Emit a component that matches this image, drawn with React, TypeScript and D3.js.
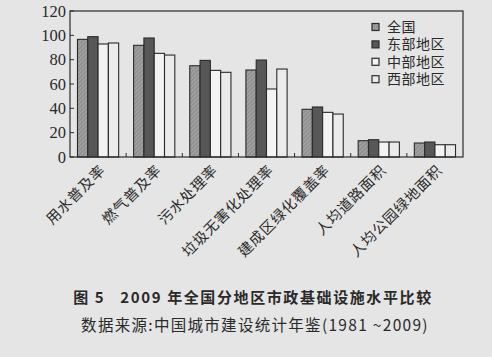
import React from "react";
import * as d3 from "d3";

const categories = ["用水普及率", "燃气普及率", "污水处理率", "垃圾无害化处理率", "建成区绿化覆盖率", "人均道路面积", "人均公园绿地面积"];
const seriesNames = ["全国", "东部地区", "中部地区", "西部地区"];
const quanguo = [96.7, 91.8, 75.0, 71.5, 39.2, 13.4, 11.5];
const dongbu = [98.9, 97.8, 79.4, 79.7, 41.1, 14.2, 12.3];
const zhongbu = [92.9, 85.2, 71.2, 55.9, 36.7, 12.3, 10.1];
const xibu = [93.7, 83.8, 69.6, 72.3, 35.3, 12.3, 10.1];
const yTicks = [0, 20, 40, 60, 80, 100, 120];
const caption1 = "图 5\u00a0\u00a0\u00a02009 年全国分地区市政基础设施水平比较";
const caption2 = "数据来源:中国城市建设统计年鉴(1981 ~2009)";

const seriesValues = [quanguo, dongbu, zhongbu, xibu];
const fills = ["url(#hatch)", "#575757", "#f3f3f3", "#ebebeb"];

export default function App() {
  const W = 492, H = 357;
  const left = 70, right = 463, top = 11, bottom = 157;
  const x0 = d3.scaleBand<string>().domain(categories).range([left, right]).padding(0);
  const bw = 10.3;
  const x1 = d3.scaleBand<string>().domain(seriesNames).range([0, bw * 4]).padding(0);
  const off = (x0.bandwidth() - bw * 4) / 2;
  const y = d3.scaleLinear().domain([0, 120]).range([bottom, top]);
  const serif = "'Liberation Serif', 'DejaVu Serif', serif";
  const cjk = "'Noto Sans CJK SC', sans-serif";
  const legendFont = "'Liberation Sans', 'Noto Sans CJK SC', sans-serif";
  const ink = "#2a2a2a";

  return (
    <svg width={W} height={H} style={{ position: "absolute", left: 0, top: 0, background: "#e5e5e5" }}>
      <defs>
        <pattern id="hatch" width="3" height="3" patternUnits="userSpaceOnUse" patternTransform="rotate(45)">
          <rect width="3" height="3" fill="#a0a0a0" />
          <line x1="0" y1="0" x2="0" y2="3" stroke="#7a7a7a" strokeWidth="1.2" />
        </pattern>
      </defs>
      <rect x={0} y={0} width={W} height={H} fill="#e5e5e5" />
      {/* bars */}
      {categories.map((c, ci) => (
        <g key={c}>
          {seriesNames.map((s, si) => {
            const v = seriesValues[si][ci];
            const bx = (x0(c) as number) + off + (x1(s) as number);
            return (
              <rect key={s} x={bx} y={y(v)} width={x1.bandwidth()} height={y(0) - y(v)}
                fill={fills[si]} stroke={ink} strokeWidth={1.1} />
            );
          })}
        </g>
      ))}
      {/* frame */}
      <rect x={left} y={top} width={right - left} height={bottom - top} fill="none" stroke={ink} strokeWidth={1.2} />
      {/* y ticks */}
      {yTicks.map((t) => (
        <g key={t}>
          <line x1={left} x2={left + 4} y1={y(t)} y2={y(t)} stroke={ink} strokeWidth={1} />
          <text x={left - 4} y={y(t)} dy="0.35em" textAnchor="end" fontFamily={serif} fontSize={16.5} fill={ink}>{t}</text>
        </g>
      ))}
      {/* x group ticks */}
      {categories.slice(1).map((c) => (
        <line key={c} x1={x0(c) as number} x2={x0(c) as number} y1={bottom} y2={bottom - 4} stroke={ink} strokeWidth={1} />
      ))}
      {/* x labels */}
      {categories.map((c) => {
        const cx = (x0(c) as number) + x0.bandwidth() / 2 + 1;
        const cy = bottom + 7;
        return (
          <text key={c} transform={`translate(${cx},${cy}) rotate(-45)`} textAnchor="end" dy="0.7em"
            fontFamily={cjk} fontSize={14.5} letterSpacing={0.8} fill={ink}>{c}</text>
        );
      })}
      {/* legend */}
      {seriesNames.map((s, i) => {
        const ly = 27 + i * 17.4;
        return (
          <g key={s}>
            <rect x={372} y={ly - 3.5} width={7} height={7} fill={fills[i]} stroke={ink} strokeWidth={1.2} />
            <text x={387} y={ly} dy="0.36em" fontFamily={legendFont} fontSize={14} letterSpacing={0.5} fill={ink}>{s}</text>
          </g>
        );
      })}
      {/* captions */}
      <text x={253} y={298} dy="0.35em" textAnchor="middle" fontFamily={cjk} fontWeight="bold" fontSize={15} letterSpacing={1.6} fill={ink}>{caption1}</text>
      <text x={255} y={326} dy="0.35em" textAnchor="middle" fontFamily={cjk} fontSize={15.5} letterSpacing={1.3} fill={ink}>{caption2}</text>
    </svg>
  );
}
